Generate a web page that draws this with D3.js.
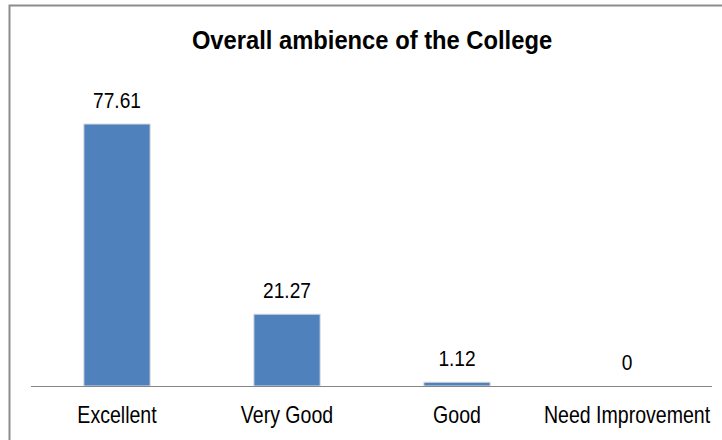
<!DOCTYPE html>
<html>
<head>
<meta charset="utf-8">
<script src="https://cdn.jsdelivr.net/npm/d3@7"></script>
<style>
  body { margin: 0; background: #fff; }
  svg text { font-family: "Liberation Sans Narrow", "Arial Narrow", "Liberation Sans", sans-serif; }
</style>
</head>
<body>
<svg id="chart" width="722" height="440"></svg>
<script>
const categories = ["Excellent", "Very Good", "Good", "Need Improvement"];
const values = [77.61, 21.27, 1.12, 0];
const valueLabels = ["77.61", "21.27", "1.12", "0"];
const title = "Overall ambience of the College";

const WIDTH = 722, HEIGHT = 440;
// no narrow font installed, so squeeze the regular one
const NARROW = 0.85;
const svg = d3.select("#chart");

// outer frame
svg.append("rect")
  .attr("x", 9.5).attr("y", 5.5)
  .attr("width", WIDTH).attr("height", HEIGHT)
  .attr("fill", "none")
  .attr("stroke", "#8c8c8c")
  .attr("stroke-width", 2);

const x = d3.scaleBand()
  .domain(categories)
  .range([32, 712])
  .paddingInner(0.61)
  .paddingOuter(0.305);

const y = d3.scaleLinear()
  .domain([0, 90])
  .range([386, 386 - 90 * 3.376]);

svg.append("text")
  .attr("transform", "translate(372,49) scale(0.95,1)")
  .attr("text-anchor", "middle")
  .attr("font-size", 25)
  .attr("font-weight", 700)
  .attr("fill", "#000")
  .text(title);

const data = categories.map((c, i) => ({ cat: c, value: values[i], label: valueLabels[i] }));

// bars
svg.append("g")
  .selectAll("rect")
  .data(data)
  .join("rect")
  .attr("x", d => x(d.cat))
  .attr("y", d => y(d.value))
  .attr("width", x.bandwidth())
  .attr("height", d => y(0) - y(d.value))
  .attr("fill", "#4f81bd")
  .attr("stroke", "#dcdcdc")
  .attr("stroke-width", d => d.value > 0 ? 1 : 0);

// baseline
svg.append("line")
  .attr("x1", 31).attr("x2", 712)
  .attr("y1", y(0) + 0.5).attr("y2", y(0) + 0.5)
  .attr("stroke", "#868686")
  .attr("stroke-width", 1);

// value labels
svg.append("g")
  .selectAll("text")
  .data(data)
  .join("text")
  .attr("transform", d => `translate(${x(d.cat) + x.bandwidth() / 2},${y(d.value) - 16}) scale(${NARROW},1)`)
  .attr("text-anchor", "middle")
  .attr("font-size", 22.5)
  .attr("fill", "#000")
  .text(d => d.label);

// category labels
svg.append("g")
  .selectAll("text")
  .data(data)
  .join("text")
  .attr("transform", d => `translate(${x(d.cat) + x.bandwidth() / 2},423) scale(${NARROW},1)`)
  .attr("text-anchor", "middle")
  .attr("font-size", 23)
  .attr("fill", "#000")
  .text(d => d.cat);
</script>
</body>
</html>
